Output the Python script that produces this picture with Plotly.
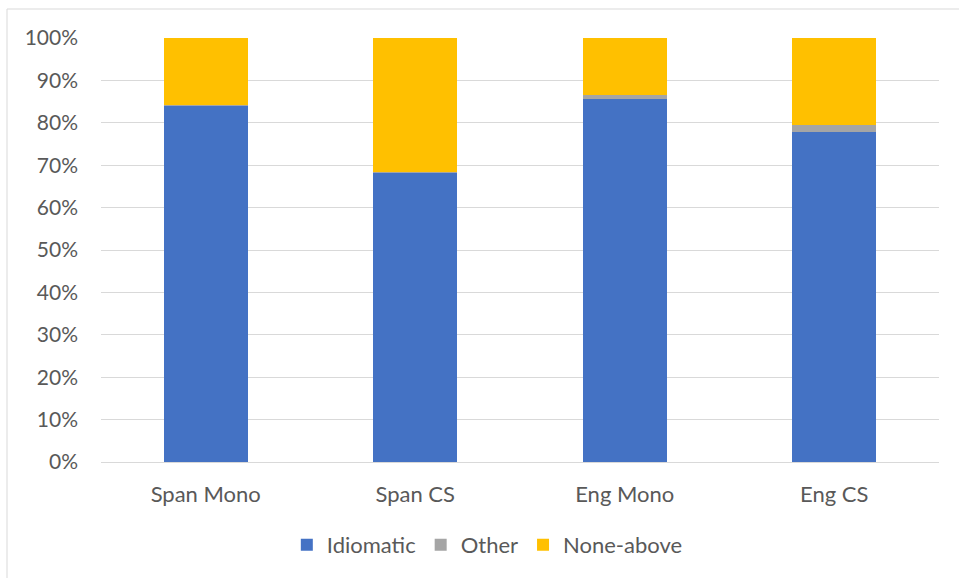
import plotly.graph_objects as go

categories = ["Span Mono", "Span CS", "Eng Mono", "Eng CS"]
idiomatic = [84.0, 68.3, 85.7, 77.9]
other = [0.3, 0.2, 0.9, 1.7]
none_above = [15.7, 31.5, 13.4, 20.4]
y_ticks = [0, 10, 20, 30, 40, 50, 60, 70, 80, 90, 100]
y_tick_labels = [f"{v}%" for v in y_ticks]

W, H = 959, 578
L, R, T, B = 101, 20, 38, 116
pw, ph = W - L - R, H - T - B

def px(x):
    return (x - L) / pw

def py(y):
    return (H - B - y) / ph

FAM = "Lato, Open Sans, sans-serif"
font = dict(family=FAM, size=20, color="#595959")

fig = go.Figure()
for name, vals, col in [("Idiomatic", idiomatic, "#4472C4"),
                        ("Other", other, "#A5A5A5"),
                        ("None-above", none_above, "#FFC000")]:
    fig.add_trace(go.Bar(x=categories, y=vals, name=name,
                         marker=dict(color=col, line=dict(width=0)), width=0.4))

fig.update_layout(
    barmode="stack",
    width=W, height=H,
    margin=dict(l=L, r=R, t=T, b=B),
    paper_bgcolor="white", plot_bgcolor="white",
    font=font,
    showlegend=True,
    legend=dict(orientation="h", x=0.461, xanchor="center", y=py(545), yanchor="middle",
                font=dict(family=FAM, size=22, color="#595959"), traceorder="normal",
                itemwidth=30),
    xaxis=dict(showgrid=False, showline=True, linecolor="#d9d9d9", linewidth=1,
               ticks="", ticklabelstandoff=13, tickfont=dict(family=FAM, size=22)),
    yaxis=dict(range=[0, 100], tickvals=y_ticks, ticktext=y_tick_labels,
               showgrid=True, gridcolor="#d9d9d9", gridwidth=1,
               zeroline=False, showline=False, ticks="",
               ticklabelstandoff=22, tickfont=dict(family=FAM, size=21)),
    shapes=[
        dict(type="line", xref="paper", yref="paper", x0=px(7), x1=px(W), y0=py(9), y1=py(9),
             line=dict(color="#d9d9d9", width=1)),
        dict(type="line", xref="paper", yref="paper", x0=px(7), x1=px(7), y0=py(9), y1=py(H),
             line=dict(color="#d9d9d9", width=1)),
    ],
)

fig.write_html("out.html")
